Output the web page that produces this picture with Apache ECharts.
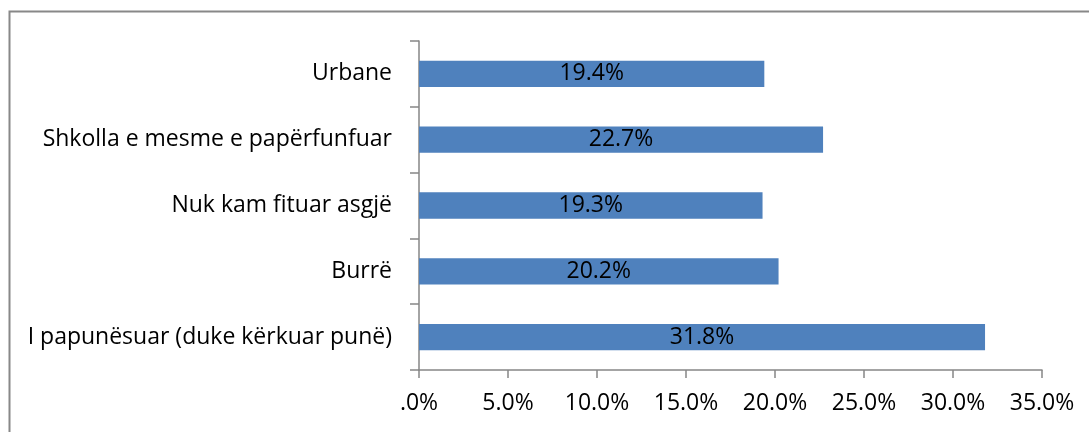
<!DOCTYPE html>
<html><head><meta charset="utf-8">
<script src="https://cdn.jsdelivr.net/npm/echarts@6/dist/echarts.min.js"></script>
<style>html,body{margin:0;padding:0;background:#fff}#c{width:1089px;height:432px}</style>
</head><body><div id="c"></div>
<script>
const categories = ["I papunësuar (duke kërkuar punë)", "Burrë", "Nuk kam fituar asgjë", "Shkolla e mesme e papërfunfuar", "Urbane"];
const values = [31.8, 20.2, 19.3, 22.7, 19.4];
const xTicks = [0, 5, 10, 15, 20, 25, 30, 35];

const chart = echarts.init(document.getElementById('c'), null, {renderer: 'canvas'});
const FONT = 'Open Sans';
const FS = 23;
chart.setOption({
  animation: false,
  backgroundColor: '#fff',
  graphic: [{
    type: 'rect', shape: {x: 9.5, y: 11.5, width: 1200, height: 600},
    style: {fill: 'none', stroke: '#888', lineWidth: 2}
  }],
  grid: {left: 419, right: 47, top: 41, bottom: 62, containLabel: false},
  xAxis: {
    type: 'value', min: xTicks[0], max: xTicks[xTicks.length - 1], interval: 5,
    splitLine: {show: false},
    axisLine: {show: true, lineStyle: {color: '#868686', width: 1.5}},
    axisTick: {show: true, length: 8, lineStyle: {color: '#868686', width: 1.5}},
    axisLabel: {
      color: '#000', fontSize: FS, fontFamily: FONT, margin: 22,
      formatter: v => (v === 0 ? '.0' : v.toFixed(1)) + '%'
    }
  },
  yAxis: {
    type: 'category', data: categories,
    axisLine: {show: true, lineStyle: {color: '#868686', width: 1.5}},
    axisTick: {show: true, length: 9, alignWithLabel: false, lineStyle: {color: '#868686', width: 1.5}},
    axisLabel: {color: '#000', fontSize: FS, fontFamily: FONT, margin: 27}
  },
  series: [{
    type: 'bar', data: values, barWidth: '40%',
    itemStyle: {color: '#4F81BD'},
    label: {
      show: true, position: 'inside', color: '#000', fontSize: FS, fontFamily: FONT,
      formatter: p => p.value.toFixed(1) + '%'
    }
  }]
});
</script></body></html>
